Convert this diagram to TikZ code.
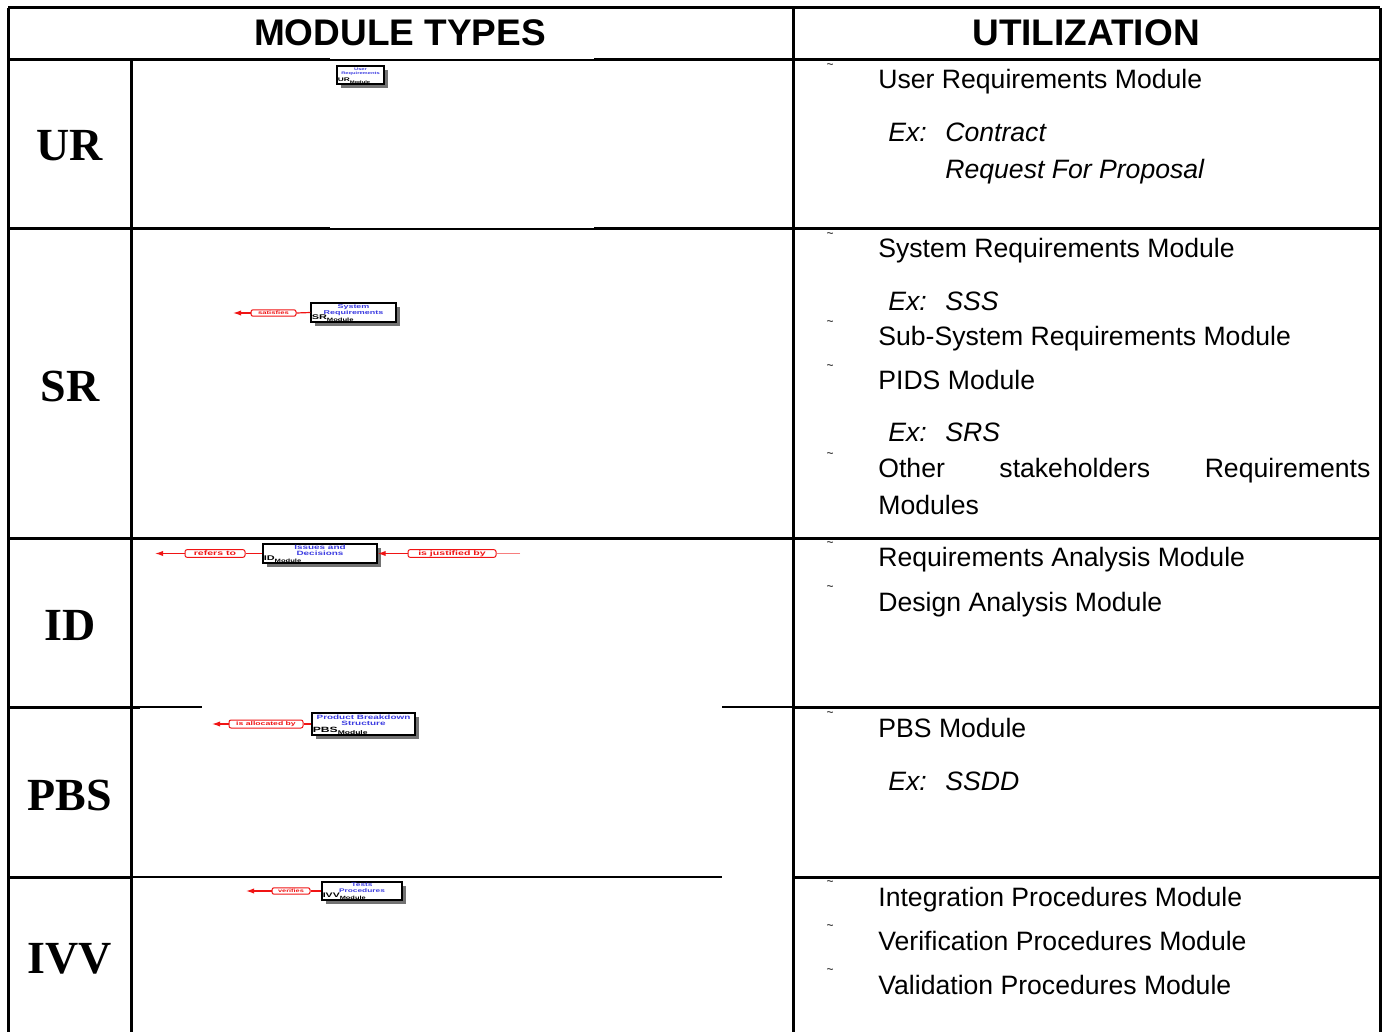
\documentclass[tikz,border=0pt]{standalone}
\usepackage{fontspec}
\setmainfont{Liberation Sans}
\newfontfamily\rowfont{Liberation Serif}
\newfontfamily\widefont{Liberation Sans Bold}[FakeStretch=1.6]
\usetikzlibrary{shadows,arrows.meta}
\definecolor{boxblue}{RGB}{60,60,225}
\definecolor{linkred}{RGB}{240,20,20}
\tikzset{
 thickrule/.style={line width=1.5pt},
 thinrule/.style={line width=0.75pt},
 head/.style={font=\fontsize{18.5}{20}\selectfont\bfseries, inner sep=0},
 rowlab/.style={font=\rowfont\fontsize{23}{24}\selectfont\bfseries, inner sep=0},
 util/.style={anchor=base west, inner sep=0, font=\fontsize{13.3}{18.5}\selectfont},
 exl/.style={anchor=base west, inner sep=0, font=\fontsize{13.3}{18.5}\selectfont\itshape},
 tld/.style={inner sep=0, font=\fontsize{6}{6}\selectfont},
 modbox/.style={draw, line width=0.6pt, fill=white, inner sep=0,
   drop shadow={shadow xshift=1.8pt, shadow yshift=-1.8pt, fill=black!55, opacity=1}},
 boxtitle/.style={anchor=north, inner sep=0, align=center, text=boxblue},
 boxtag/.style={anchor=south west, inner sep=0.5pt},
 linkbox/.style={draw=linkred, line width=0.5pt, rounded corners=1pt, fill=white,
   inner sep=0, text=linkred},
 link/.style={draw=linkred, line width=0.6pt},
 linkarrow/.style={link, -{Latex[length=4pt,width=2.6pt]}},
}
\begin{document}
\begin{tikzpicture}[x=0.5pt,y=-0.5pt]
\useasboundingbox (0,0) rectangle (1383,1032);
\fill[white] (0,0) rectangle (1383,1032);
% grid
\draw[thickrule] (8,8) -- (1380,8);
\draw[thickrule] (8,8) -- (8,1032);
\draw[thickrule] (793,8) -- (793,1032);
\draw[thickrule] (1380,8) -- (1380,1032);
\draw[thickrule] (131,60) -- (131,1032);
\draw[thickrule] (8,60) -- (330,60);
\draw[thinrule] (330,60) -- (594,60);
\draw[thickrule] (594,60) -- (1380,60);
\draw[thickrule] (8,229) -- (330,229);
\draw[thinrule] (330,229) -- (594,229);
\draw[thickrule] (594,229) -- (1380,229);
\draw[thickrule] (8,538) -- (1380,538);
\draw[thickrule] (8,707) -- (140,707);
\draw[thinrule] (140,707) -- (202,707);
\draw[thinrule] (722,707) -- (793,707);
\draw[thickrule] (793,707) -- (1380,707);
\draw[thickrule] (8,877) -- (131,877);
\draw[thinrule] (131,877) -- (722,877);
\draw[thickrule] (793,877) -- (1380,877);
% headers
\node[head] (h1) at (400,33) {MODULE TYPES};
\node[head] (h2) at (1086,33) {UTILIZATION};
% row labels
\node[rowlab] (rUR) at (70,146) {UR};
\node[rowlab] (rSR) at (70,386) {SR};
\node[rowlab] (rID) at (70,625) {ID};
\node[rowlab] (rPBS) at (70,795) {PBS};
\node[rowlab] (rIVV) at (70,959) {IVV};
% UR module
\node[modbox, minimum width=23.5pt, minimum height=9pt] (ur) at (360.5,75) {};
\node[boxtitle, font=\widefont\fontsize{1.8}{2.1}\selectfont] (urt) at ([yshift=-1pt]ur.north) {User\\Requirements};
\node[boxtag, font=\widefont\fontsize{2.6}{2.6}\selectfont] (urg) at (ur.south west) {UR\textsubscript{Module}};
% SR module
\node[modbox, minimum width=42.5pt, minimum height=9.5pt] (sr) at (353.5,312.5) {};
\node[boxtitle, font=\widefont\fontsize{2.8}{2.8}\selectfont] (srt) at ([yshift=-0.9pt]sr.north) {System\\Requirements};
\node[boxtag, font=\widefont\fontsize{3.4}{3.4}\selectfont] (srg) at (sr.south west) {SR\textsubscript{Module}};
\node[linkbox, minimum width=22.5pt, minimum height=3.2pt, font=\widefont\fontsize{2.4}{2.6}\selectfont] (sat) at (273.5,313) {satisfies};
\coordinate (satend) at (233,313);
\draw[link] (sr.west) -- (sat.east);
\draw[linkarrow] (sat.west) -- (satend);
% ID module
\node[modbox, minimum width=57pt, minimum height=9.5pt] (id) at (320,553.5) {};
\node[boxtitle, font=\widefont\fontsize{3.1}{2.7}\selectfont] (idt) at ([yshift=-0.8pt]id.north) {Issues and\\Decisions};
\node[boxtag, font=\widefont\fontsize{3.4}{3.4}\selectfont] (idg) at ([yshift=-0.2pt]id.south west) {ID\textsubscript{Module}};
\node[linkbox, minimum width=30pt, minimum height=3.8pt, font=\widefont\fontsize{3.3}{3.5}\selectfont] (ref) at (215,553.5) {refers to};
\node[linkbox, minimum width=44pt, minimum height=3.8pt, font=\widefont\fontsize{3.3}{3.5}\selectfont] (jus) at (452,553.5) {is justified by};
\coordinate (refend) at (155,553.5);
\coordinate (jusstart) at (520,553.5);
\draw[link] (id.west) -- (ref.east);
\draw[linkarrow] (ref.west) -- (refend);
\draw[link, draw=linkred!55] (jusstart) -- (jus.east);
\draw[linkarrow] (jus.west) -- (id.east);
% PBS module
\node[modbox, minimum width=51.5pt, minimum height=11pt] (pbs) at (363.5,724) {};
\node[boxtitle, font=\widefont\fontsize{3.1}{3.1}\selectfont] (pbst) at ([yshift=-1.1pt]pbs.north) {Product Breakdown\\Structure};
\node[boxtag, font=\widefont\fontsize{3.8}{3.8}\selectfont] (pbsg) at (pbs.south west) {PBS\textsubscript{Module}};
\node[linkbox, minimum width=37pt, minimum height=4pt, font=\widefont\fontsize{2.7}{2.9}\selectfont] (alc) at (266,724) {is allocated by};
\coordinate (alcend) at (212,724);
\draw[link] (pbs.west) -- (alc.east);
\draw[linkarrow] (alc.west) -- (alcend);
% IVV module
\node[modbox, minimum width=40pt, minimum height=9pt] (ivv) at (362,891) {};
\node[boxtitle, font=\widefont\fontsize{2.6}{2.6}\selectfont] (ivvt) at ([yshift=-0.8pt]ivv.north) {Tests\\Procedures};
\node[boxtag, font=\widefont\fontsize{3.3}{3.3}\selectfont] (ivvg) at (ivv.south west) {IVV\textsubscript{Module}};
\node[linkbox, minimum width=19pt, minimum height=3.2pt, font=\widefont\fontsize{2.3}{2.5}\selectfont] (ver) at (291,891) {verifies};
\coordinate (verend) at (246,891);
\draw[link] (ivv.west) -- (ver.east);
\draw[linkarrow] (ver.west) -- (verend);
% utilization column
\foreach \yy/\nm in {66/t1,235/t2,323/t3,367/t4,455/t5,544/t6,588/t7,714/t8,883/t9,927/t10,971/t11}
  \node[tld] (\nm) at (830,\yy) {\textasciitilde};
\node[util] (u1) at (878,89) {User Requirements Module};
\node[exl] (e1) at (888,142) {Ex:};
\node[exl] (e1v) at (945,142) {Contract};
\node[exl] (e1w) at (945,179) {Request For Proposal};
\node[util] (u2) at (878,258) {System Requirements Module};
\node[exl] (e2) at (888,311) {Ex:};
\node[exl] (e2v) at (945,311) {SSS};
\node[util] (u3) at (878,346) {Sub-System Requirements Module};
\node[util] (u4) at (878,390) {PIDS Module};
\node[exl] (e4) at (888,442) {Ex:};
\node[exl] (e4v) at (945,442) {SRS};
\node[util] (u5) at (878,478) {\makebox[246pt][s]{Other\hfill stakeholders\hfill Requirements}};
\node[util] (u5b) at (878,515) {Modules};
\node[util] (u6) at (878,567) {Requirements Analysis Module};
\node[util] (u7) at (878,611) {Design Analysis Module};
\node[util] (u8) at (878,737) {PBS Module};
\node[exl] (e8) at (888,790) {Ex:};
\node[exl] (e8v) at (945,790) {SSDD};
\node[util] (u9) at (878,906) {Integration Procedures Module};
\node[util] (u10) at (878,950) {Verification Procedures Module};
\node[util] (u11) at (878,994) {Validation Procedures Module};
\end{tikzpicture}
\end{document}
